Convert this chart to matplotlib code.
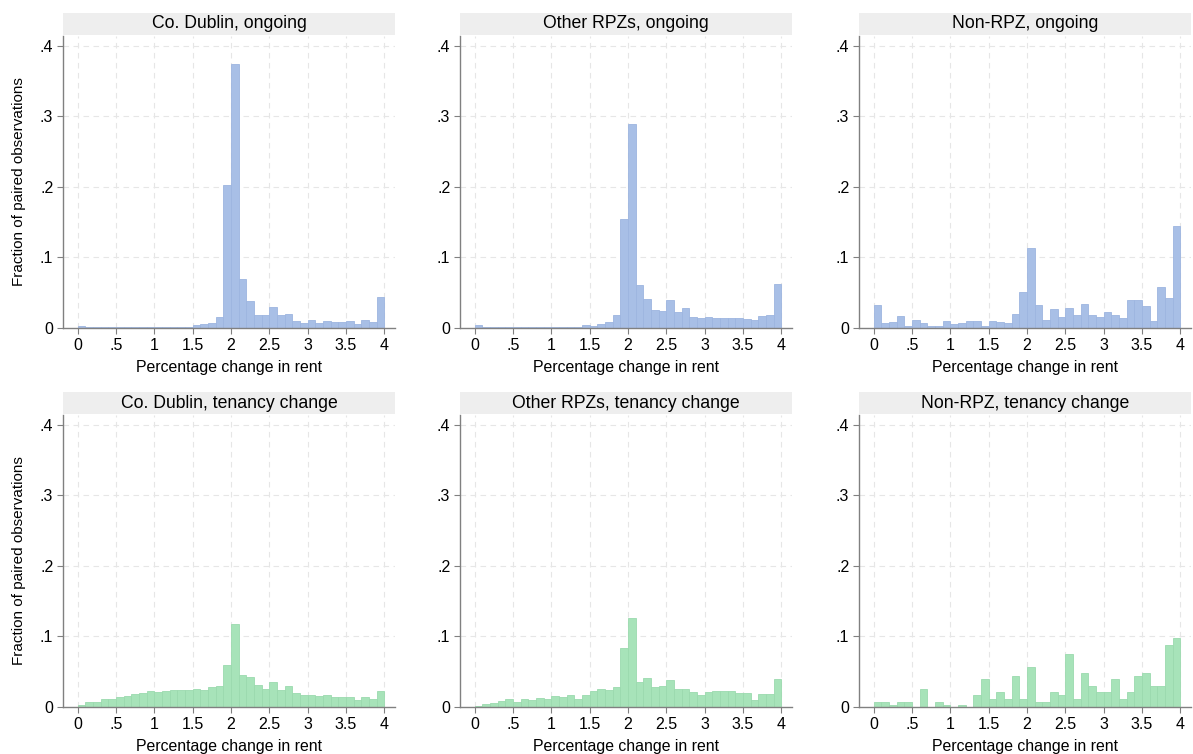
import numpy as np
import matplotlib
matplotlib.use("Agg")
import matplotlib.pyplot as plt

plt.rcParams['font.family'] = ['Liberation Sans', 'DejaVu Sans']

# bin edges: 0 to 4 in steps of 0.1
bin_left = np.round(np.arange(0, 4.0, 0.1), 1)

# fraction of paired observations per bin
dublin_ongoing = [0.003, 0.002, 0.001, 0.001, 0.001, 0.001, 0.001, 0.001, 0.001, 0.001,
                  0.001, 0.002, 0.0015, 0.002, 0.002, 0.004, 0.005, 0.007, 0.015, 0.203,
                  0.375, 0.070, 0.038, 0.019, 0.019, 0.030, 0.019, 0.020, 0.010, 0.0075,
                  0.011, 0.007, 0.0095, 0.009, 0.008, 0.010, 0.006, 0.011, 0.009, 0.044]
rpz_ongoing = [0.004, 0.0015, 0.001, 0.001, 0.001, 0.001, 0.0015, 0.0015, 0.0015, 0.0015,
               0.0015, 0.002, 0.002, 0.002, 0.004, 0.003, 0.006, 0.009, 0.018, 0.155,
               0.289, 0.061, 0.041, 0.026, 0.0245, 0.039, 0.022, 0.028, 0.0155, 0.0137,
               0.0155, 0.0146, 0.0146, 0.0137, 0.0137, 0.013, 0.012, 0.0175, 0.019, 0.063]
nonrpz_ongoing = [0.033, 0.007, 0.0085, 0.0165, 0.003, 0.012, 0.007, 0.003, 0.003, 0.010,
                  0.005, 0.007, 0.010, 0.010, 0.003, 0.010, 0.0085, 0.007, 0.020, 0.051,
                  0.114, 0.033, 0.012, 0.027, 0.016, 0.029, 0.018, 0.034, 0.018, 0.016,
                  0.022, 0.018, 0.014, 0.040, 0.040, 0.031, 0.010, 0.058, 0.042, 0.145]
dublin_change = [0.003, 0.0067, 0.0067, 0.0114, 0.012, 0.0148, 0.0157, 0.019, 0.0205, 0.0233,
                 0.021, 0.022, 0.024, 0.024, 0.024, 0.026, 0.024, 0.028, 0.030, 0.0595,
                 0.117, 0.045, 0.042, 0.031, 0.025, 0.035, 0.024, 0.030, 0.0195, 0.0176,
                 0.0176, 0.015, 0.017, 0.0148, 0.0148, 0.0148, 0.0105, 0.014, 0.012, 0.023]
rpz_change = [0.002, 0.004, 0.005, 0.009, 0.0114, 0.0076, 0.011, 0.010, 0.013, 0.012,
              0.015, 0.014, 0.017, 0.012, 0.0176, 0.022, 0.025, 0.024, 0.0286, 0.084,
              0.126, 0.035, 0.041, 0.028, 0.0295, 0.038, 0.025, 0.026, 0.0214, 0.017,
              0.021, 0.023, 0.023, 0.023, 0.020, 0.0205, 0.0105, 0.019, 0.018, 0.040]
nonrpz_change = [0.0076, 0.0076, 0.003, 0.0076, 0.0076, 0.0, 0.026, 0.0, 0.0076, 0.003,
                 0.0, 0.003, 0.0, 0.017, 0.0395, 0.012, 0.0214, 0.012, 0.044, 0.012,
                 0.057, 0.0076, 0.0076, 0.021, 0.017, 0.075, 0.012, 0.048, 0.030, 0.021,
                 0.021, 0.0395, 0.012, 0.021, 0.044, 0.048, 0.030, 0.030, 0.0886, 0.0976]

titles = ["Co. Dublin, ongoing", "Other RPZs, ongoing", "Non-RPZ, ongoing",
          "Co. Dublin, tenancy change", "Other RPZs, tenancy change", "Non-RPZ, tenancy change"]
series = [dublin_ongoing, rpz_ongoing, nonrpz_ongoing,
          dublin_change, rpz_change, nonrpz_change]

x_ticks = [0, 0.5, 1, 1.5, 2, 2.5, 3, 3.5, 4]
x_ticklabels = ["0", ".5", "1", "1.5", "2", "2.5", "3", "3.5", "4"]
y_ticks = [0, 0.1, 0.2, 0.3, 0.4]
y_ticklabels = ["0", ".1", ".2", ".3", ".4"]

blue_fill, blue_edge = "#a8bfe6", "#9db5e0"
green_fill, green_edge = "#a7e3b9", "#9bdaae"
axis_col = "#808080"

W, H = 1193, 754
fig = plt.figure(figsize=(W / 100, H / 100), dpi=100)

lefts = [63, 460, 859]
tops = [36, 415]
aw, ah = 332, 292

for i, (title, vals) in enumerate(zip(titles, series)):
    r, c = divmod(i, 3)
    ax = fig.add_axes([lefts[c] / W, 1 - (tops[r] + ah) / H, aw / W, ah / H])
    fill, edge = (blue_fill, blue_edge) if r == 0 else (green_fill, green_edge)
    ax.bar(bin_left, vals, width=0.1, align='edge', color=fill, edgecolor=edge,
           linewidth=0.6, zorder=2)

    ax.set_xlim(-0.19, 4.14)
    ax.set_ylim(0, 0.414)
    ax.set_xticks(x_ticks)
    ax.set_xticklabels(x_ticklabels)
    ax.set_yticks(y_ticks)
    ax.set_yticklabels(y_ticklabels)
    ax.tick_params(labelsize=11.5, color=axis_col, length=4, width=0.8, pad=3)

    # dashed grid, stata-like
    for xv in x_ticks:
        ax.axvline(xv, color="#e6e6e6", lw=0.8, ls=(0, (5, 4)), zorder=0)
    for yv in y_ticks[1:]:
        ax.axhline(yv, color="#e6e6e6", lw=0.8, ls=(0, (5, 4)), zorder=0)

    for s in ["top", "right"]:
        ax.spines[s].set_visible(False)
    for s in ["left", "bottom"]:
        ax.spines[s].set_color(axis_col)
        ax.spines[s].set_linewidth(1.0)

    ax.set_xlabel("Percentage change in rent", fontsize=11.4, labelpad=5)
    if c == 0:
        ax.set_ylabel("Fraction of paired observations", fontsize=11, labelpad=10)

    # grey strip with the panel title
    strip = fig.add_axes([lefts[c] / W, 1 - (tops[r] - 1) / H, aw / W, 22 / H])
    strip.set_facecolor("#eeeeee")
    strip.set_xticks([])
    strip.set_yticks([])
    for s in strip.spines.values():
        s.set_visible(False)
    strip.text(0.5, 0.5, title, ha='center', va='center', fontsize=12.7)

fig.savefig("out.png", dpi=100)
